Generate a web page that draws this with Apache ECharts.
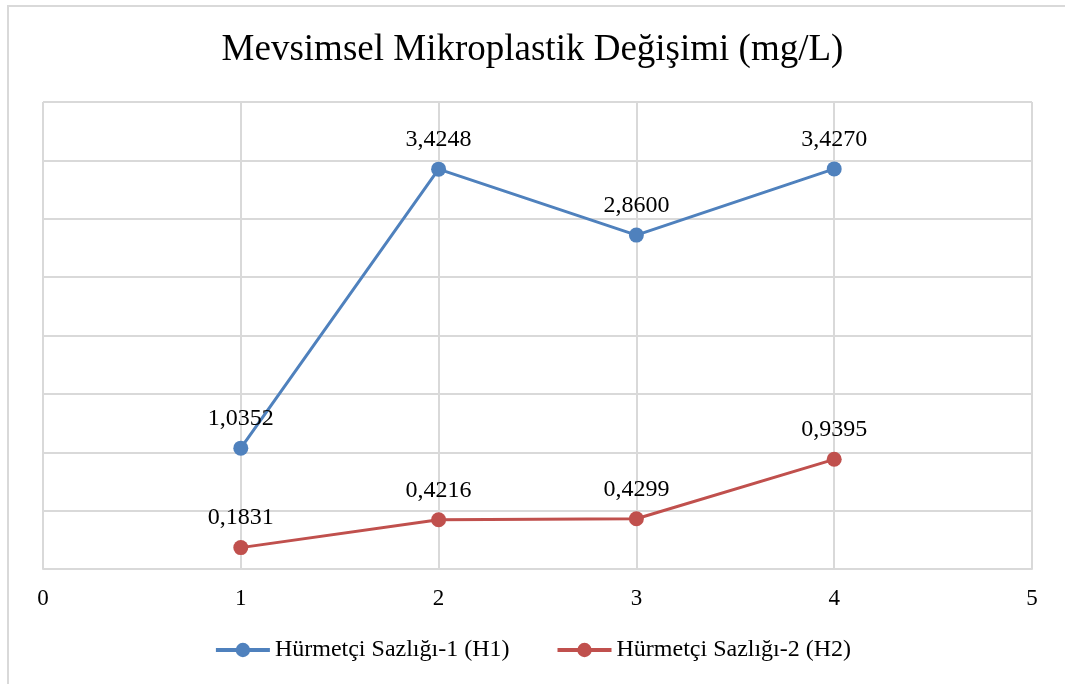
<!DOCTYPE html>
<html>
<head>
<meta charset="utf-8">
<script src="https://cdn.jsdelivr.net/npm/echarts@6/dist/echarts.min.js"></script>
<style>
  html, body { margin: 0; padding: 0; background: #fff; }
  #chart { width: 1065px; height: 684px; }
</style>
</head>
<body>
<div id="chart"></div>
<script>
// veriler
const xValues = [1, 2, 3, 4];
const h1Values = [1.0352, 3.4248, 2.8600, 3.4270];
const h2Values = [0.1831, 0.4216, 0.4299, 0.9395];
const seriesNames = ['Hürmetçi Sazlığı-1 (H1)', 'Hürmetçi Sazlığı-2 (H2)'];
const colors = ['#4f81bd', '#c0504d'];

const serif = '"Liberation Serif", "DejaVu Serif", serif';

function pairs(vals) {
  return xValues.map((x, i) => [x, vals[i]]);
}

function lineSeries(name, vals, color) {
  return {
    name: name,
    type: 'line',
    data: pairs(vals),
    symbol: 'circle',
    symbolSize: 15,
    lineStyle: { color: color, width: 3 },
    itemStyle: { color: color },
    label: {
      show: true,
      position: 'top',
      distance: 10,
      color: '#000',
      fontFamily: serif,
      fontSize: 24,
      formatter: (p) => p.value[1].toFixed(4).replace('.', ','),
    },
  };
}

let option = {
  backgroundColor: '#fff',
  animation: false,
  title: {
    text: 'Mevsimsel Mikroplastik Değişimi (mg/L)',
    left: 'center',
    top: 27,
    textStyle: { fontFamily: serif, fontSize: 37, fontWeight: 'normal', color: '#000' },
  },
  legend: {
    bottom: 17,
    left: 'center',
    itemWidth: 54,
    itemHeight: 18,
    itemGap: 46,
    lineStyle: { width: 4 },
    textStyle: { fontFamily: serif, fontSize: 24, color: '#000' },
    data: seriesNames,
  },
  graphic: [
    {
      type: 'rect',
      shape: { x: 8, y: 6, width: 1070, height: 690 },
      style: { fill: 'none', stroke: '#d9d9d9', lineWidth: 2 },
      silent: true,
    },
  ],
  grid: { left: 43, right: 33, top: 102, bottom: 115 },
  xAxis: {
    type: 'value',
    min: 0,
    max: 5,
    interval: 1,
    axisLine: { show: true, lineStyle: { color: '#d9d9d9', width: 2 } },
    axisTick: { show: false },
    axisLabel: { color: '#000', fontFamily: serif, fontSize: 23, margin: 18 },
    splitLine: { show: true, lineStyle: { color: '#d9d9d9', width: 2 } },
  },
  yAxis: {
    type: 'value',
    min: 0,
    max: 4,
    interval: 0.5,
    axisLine: { show: false },
    axisTick: { show: false },
    axisLabel: { show: false },
    splitLine: { show: true, lineStyle: { color: '#d9d9d9', width: 2 } },
  },
  series: [
    lineSeries(seriesNames[0], h1Values, colors[0]),
    lineSeries(seriesNames[1], h2Values, colors[1]),
  ],
};

let myChart = echarts.init(document.getElementById('chart'));
myChart.setOption(option);
</script>
</body>
</html>
